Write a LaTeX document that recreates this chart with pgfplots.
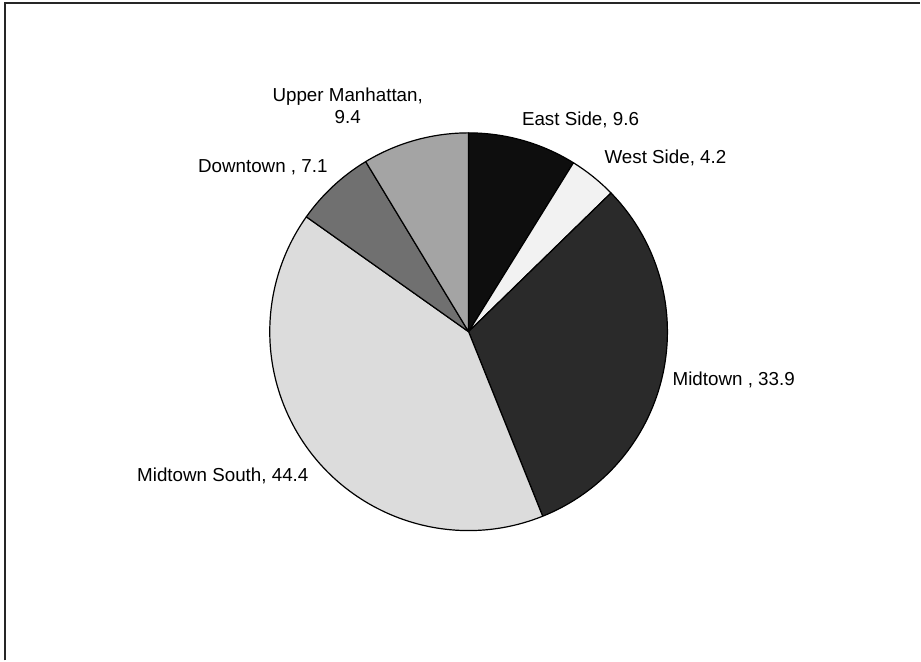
\documentclass[border=0pt]{standalone}
\usepackage{pgfplots}
\usepackage{pgfplotstable}
\pgfplotsset{compat=1.18}
\usepackage{fontspec}
\setmainfont{Liberation Sans}

\definecolor{cEast}{HTML}{0E0E0E}
\definecolor{cWest}{HTML}{F2F2F2}
\definecolor{cMid}{HTML}{2A2A2A}
\definecolor{cMidS}{HTML}{DCDCDC}
\definecolor{cDown}{HTML}{707070}
\definecolor{cUp}{HTML}{A4A4A4}

% slices clockwise from 12 o'clock
\pgfplotstableread{
name value col
East 9.6 cEast
West 4.2 cWest
Midtown 33.9 cMid
MidSouth 44.4 cMidS
Downtown 7.1 cDown
Upper 9.4 cUp
}\piedata

\begin{document}
\begin{tikzpicture}
\begin{axis}[
  x=1bp, y=1bp, y dir=reverse,
  xmin=0, xmax=921, ymin=0, ymax=661,
  hide axis, clip=false, scale only axis,
]
\addplot[draw=none] coordinates {(0,0) (921,661)};
% total
\def\pietotal{0}
\pgfplotsforeachungrouped \i in {0,1,2,3,4,5}{%
  \pgfplotstablegetelem{\i}{value}\of\piedata
  \pgfmathsetmacro\pietotal{\pietotal+\pgfplotsretval}%
}
\def\piecum{0}
\pgfplotsforeachungrouped \i in {0,1,2,3,4,5}{%
  \pgfplotstablegetelem{\i}{value}\of\piedata
  \let\slval\pgfplotsretval
  \pgfplotstablegetelem{\i}{col}\of\piedata
  \let\slcol\pgfplotsretval
  \pgfmathsetmacro\angA{90-\piecum/\pietotal*360}%
  \pgfmathsetmacro\angB{90-(\piecum+\slval)/\pietotal*360}%
  \pgfmathsetmacro\piecum{\piecum+\slval}%
  \edef\tmp{\noexpand\filldraw[fill=\slcol, draw=black, line width=1.2bp, line join=round]
    (axis cs:469,332) -- ++(\angA:199bp) arc[start angle=\angA, end angle=\angB, radius=199bp] -- cycle;}%
  \tmp
}
% frame
\draw[line width=1.6bp, black!85] (axis cs:5,661) -- (axis cs:5,3) -- (axis cs:921,3);
% labels
\begin{scope}[every node/.style={font=\fontsize{18.8bp}{22bp}\selectfont, inner sep=0pt}]
\node[anchor=base] at (axis cs:581,126) {East Side, 9.6};
\node[anchor=base] at (axis cs:666,164) {West Side, 4.2};
\node[anchor=base west] at (axis cs:673,386) {Midtown , 33.9};
\node[anchor=base] at (axis cs:223,482) {Midtown South, 44.4};
\node[anchor=base] at (axis cs:263,173) {Downtown , 7.1};
\node[anchor=base] at (axis cs:348,102) {Upper Manhattan,};
\node[anchor=base] at (axis cs:348,124) {9.4};
\end{scope}
\end{axis}
\end{tikzpicture}
\end{document}
